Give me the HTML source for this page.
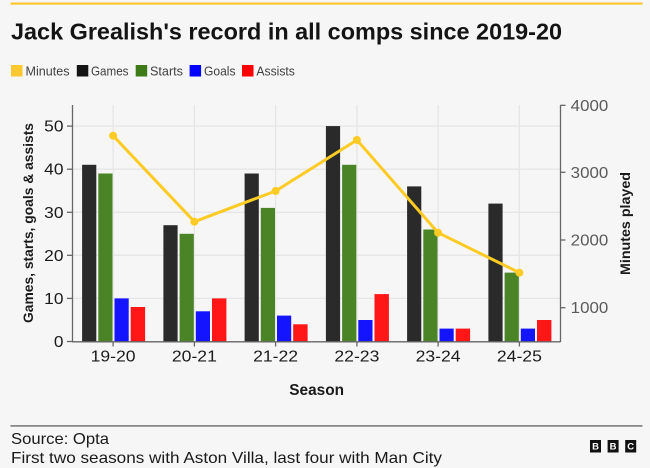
<!DOCTYPE html>
<html><head><meta charset="utf-8"><style>
html,body{margin:0;padding:0;background:#f6f6f6;}
svg{display:block;font-family:"Liberation Sans",Arial,sans-serif;}
</style></head><body>
<svg width="650" height="468" viewBox="0 0 650 468" xmlns="http://www.w3.org/2000/svg">
<rect x="0" y="0" width="650" height="468" fill="#f6f6f6"/>
<rect x="10.5" y="2.5" width="632" height="2.2" fill="#fdc82f"/>
<text x="11" y="39.3" font-size="23.5" font-weight="bold" fill="#141414" textLength="551" lengthAdjust="spacingAndGlyphs">Jack Grealish's record in all comps since 2019-20</text>
<!-- legend -->
<g font-size="13" fill="#404040">
<rect x="11" y="65" width="11.5" height="11.5" fill="#fdc82f"/>
<text x="25.5" y="75.5" textLength="44" lengthAdjust="spacingAndGlyphs">Minutes</text>
<rect x="76.8" y="65" width="11.5" height="11.5" fill="#141414"/>
<text x="91" y="75.5" textLength="37.5" lengthAdjust="spacingAndGlyphs">Games</text>
<rect x="135.7" y="65" width="11.5" height="11.5" fill="#3e7a17"/>
<text x="150" y="75.5" textLength="33" lengthAdjust="spacingAndGlyphs">Starts</text>
<rect x="189.6" y="65" width="11.5" height="11.5" fill="#0000ff"/>
<text x="204" y="75.5" textLength="31.5" lengthAdjust="spacingAndGlyphs">Goals</text>
<rect x="242" y="65" width="11.5" height="11.5" fill="#ff0000"/>
<text x="256.4" y="75.5" textLength="38.5" lengthAdjust="spacingAndGlyphs">Assists</text>
</g>
<!-- gridlines -->
<g stroke="#e6e6e6" stroke-width="1.3">
<line x1="72.5" x2="560" y1="298.4" y2="298.4"/>
<line x1="72.5" x2="560" y1="255.3" y2="255.3"/>
<line x1="72.5" x2="560" y1="212.3" y2="212.3"/>
<line x1="72.5" x2="560" y1="169.2" y2="169.2"/>
<line x1="72.5" x2="560" y1="126.1" y2="126.1"/>
<line x1="113.1" x2="113.1" y1="105" y2="341.5"/>
<line x1="194.4" x2="194.4" y1="105" y2="341.5"/>
<line x1="275.6" x2="275.6" y1="105" y2="341.5"/>
<line x1="356.9" x2="356.9" y1="105" y2="341.5"/>
<line x1="438.1" x2="438.1" y1="105" y2="341.5"/>
<line x1="519.4" x2="519.4" y1="105" y2="341.5"/>
</g>
<!-- bars -->
<g>
<rect x="82.1" y="164.8" width="14.2" height="176.7" fill="#2a2a2a"/>
<rect x="98.3" y="173.5" width="14.2" height="168.0" fill="#4a8426"/>
<rect x="114.5" y="298.4" width="14.2" height="43.1" fill="#1414ff"/>
<rect x="130.7" y="307.0" width="14.4" height="34.5" fill="#ff1616"/>
<rect x="163.4" y="225.2" width="14.2" height="116.3" fill="#2a2a2a"/>
<rect x="179.6" y="233.8" width="14.2" height="107.7" fill="#4a8426"/>
<rect x="195.8" y="311.3" width="14.2" height="30.2" fill="#1414ff"/>
<rect x="212.0" y="298.4" width="14.4" height="43.1" fill="#ff1616"/>
<rect x="244.6" y="173.5" width="14.2" height="168.0" fill="#2a2a2a"/>
<rect x="260.8" y="207.9" width="14.2" height="133.6" fill="#4a8426"/>
<rect x="277.0" y="315.6" width="14.2" height="25.9" fill="#1414ff"/>
<rect x="293.2" y="324.3" width="14.4" height="17.2" fill="#ff1616"/>
<rect x="325.9" y="126.1" width="14.2" height="215.4" fill="#2a2a2a"/>
<rect x="342.1" y="164.8" width="14.2" height="176.7" fill="#4a8426"/>
<rect x="358.3" y="320.0" width="14.2" height="21.5" fill="#1414ff"/>
<rect x="374.5" y="294.1" width="14.4" height="47.4" fill="#ff1616"/>
<rect x="407.1" y="186.4" width="14.2" height="155.1" fill="#2a2a2a"/>
<rect x="423.3" y="229.5" width="14.2" height="112.0" fill="#4a8426"/>
<rect x="439.5" y="328.6" width="14.2" height="12.9" fill="#1414ff"/>
<rect x="455.7" y="328.6" width="14.4" height="12.9" fill="#ff1616"/>
<rect x="488.4" y="203.6" width="14.2" height="137.9" fill="#2a2a2a"/>
<rect x="504.6" y="272.6" width="14.2" height="68.9" fill="#4a8426"/>
<rect x="520.8" y="328.6" width="14.2" height="12.9" fill="#1414ff"/>
<rect x="537.0" y="320.0" width="14.4" height="21.5" fill="#ff1616"/>
</g>
<!-- minutes line -->
<polyline points="113.1,135.7 194.4,221.7 275.6,191 356.9,140 438.1,232.7 519.4,272.7" fill="none" stroke="#fdcb24" stroke-width="3" stroke-linejoin="round"/>
<g fill="#fdcb24">
<circle cx="113.1" cy="135.7" r="4"/>
<circle cx="194.4" cy="221.7" r="4"/>
<circle cx="275.6" cy="191" r="4"/>
<circle cx="356.9" cy="140" r="4"/>
<circle cx="438.1" cy="232.7" r="4"/>
<circle cx="519.4" cy="272.7" r="4"/>
</g>
<!-- axes -->
<g stroke="#666" stroke-width="1.3" fill="none">
<line x1="72.5" x2="72.5" y1="105" y2="342"/>
<line x1="72" x2="560.5" y1="341.8" y2="341.8"/>
<line x1="560.5" x2="560.5" y1="105" y2="342"/>
<line x1="67" x2="72.5" y1="341.5" y2="341.5"/>
<line x1="67" x2="72.5" y1="298.4" y2="298.4"/>
<line x1="67" x2="72.5" y1="255.3" y2="255.3"/>
<line x1="67" x2="72.5" y1="212.3" y2="212.3"/>
<line x1="67" x2="72.5" y1="169.2" y2="169.2"/>
<line x1="67" x2="72.5" y1="126.1" y2="126.1"/>
<line x1="560.5" x2="565.5" y1="307.7" y2="307.7"/>
<line x1="560.5" x2="565.5" y1="240.0" y2="240.0"/>
<line x1="560.5" x2="565.5" y1="172.3" y2="172.3"/>
<line x1="560.5" x2="565.5" y1="105.3" y2="105.3"/>
<line x1="113.1" x2="113.1" y1="342" y2="346.5"/>
<line x1="194.4" x2="194.4" y1="342" y2="346.5"/>
<line x1="275.6" x2="275.6" y1="342" y2="346.5"/>
<line x1="356.9" x2="356.9" y1="342" y2="346.5"/>
<line x1="438.1" x2="438.1" y1="342" y2="346.5"/>
<line x1="519.4" x2="519.4" y1="342" y2="346.5"/>
</g>
<!-- left tick labels -->
<g font-size="15.5" fill="#1a1a1a" text-anchor="end">
<text x="63.5" y="347" textLength="9.6" lengthAdjust="spacingAndGlyphs">0</text>
<text x="63.5" y="303.9" textLength="19.3" lengthAdjust="spacingAndGlyphs">10</text>
<text x="63.5" y="260.8" textLength="19.3" lengthAdjust="spacingAndGlyphs">20</text>
<text x="63.5" y="217.8" textLength="19.3" lengthAdjust="spacingAndGlyphs">30</text>
<text x="63.5" y="174.7" textLength="19.3" lengthAdjust="spacingAndGlyphs">40</text>
<text x="63.5" y="131.6" textLength="19.3" lengthAdjust="spacingAndGlyphs">50</text>
</g>
<!-- right tick labels -->
<g font-size="15.5" fill="#5a5a5a">
<text x="570.7" y="313.2" textLength="37.6" lengthAdjust="spacingAndGlyphs">1000</text>
<text x="570.7" y="245.5" textLength="37.6" lengthAdjust="spacingAndGlyphs">2000</text>
<text x="570.7" y="177.8" textLength="37.6" lengthAdjust="spacingAndGlyphs">3000</text>
<text x="570.7" y="110.8" textLength="37.6" lengthAdjust="spacingAndGlyphs">4000</text>
</g>
<!-- category labels -->
<g font-size="15.5" fill="#1a1a1a" text-anchor="middle">
<text x="113.1" y="361.7" textLength="45" lengthAdjust="spacingAndGlyphs">19-20</text>
<text x="194.4" y="361.7" textLength="45" lengthAdjust="spacingAndGlyphs">20-21</text>
<text x="275.6" y="361.7" textLength="45" lengthAdjust="spacingAndGlyphs">21-22</text>
<text x="356.9" y="361.7" textLength="45" lengthAdjust="spacingAndGlyphs">22-23</text>
<text x="438.1" y="361.7" textLength="45" lengthAdjust="spacingAndGlyphs">23-24</text>
<text x="519.4" y="361.7" textLength="45" lengthAdjust="spacingAndGlyphs">24-25</text>
</g>
<!-- axis titles -->
<text x="289.3" y="395" font-size="16" font-weight="bold" fill="#1a1a1a" textLength="54.7" lengthAdjust="spacingAndGlyphs">Season</text>
<text transform="translate(33,223) rotate(-90)" text-anchor="middle" font-size="13.5" font-weight="bold" fill="#1a1a1a" textLength="200" lengthAdjust="spacingAndGlyphs">Games, starts, goals &amp; assists</text>
<text transform="translate(630,223.5) rotate(-90)" text-anchor="middle" font-size="13.5" font-weight="bold" fill="#1a1a1a" textLength="103" lengthAdjust="spacingAndGlyphs">Minutes played</text>
<!-- footer -->
<rect x="10.5" y="425" width="632" height="1.8" fill="#8a8a8a"/>
<text x="11" y="444" font-size="16" fill="#1a1a1a" textLength="98" lengthAdjust="spacingAndGlyphs">Source: Opta</text>
<text x="11" y="463" font-size="16" fill="#1a1a1a" textLength="431" lengthAdjust="spacingAndGlyphs">First two seasons with Aston Villa, last four with Man City</text>
<g>
<rect x="590" y="440" width="11" height="12.5" fill="#111"/>
<rect x="607.6" y="440" width="11" height="12.5" fill="#111"/>
<rect x="625.2" y="440" width="11" height="12.5" fill="#111"/>
<g font-size="9.5" font-weight="bold" fill="#fff" text-anchor="middle">
<text x="595.5" y="449.7">B</text>
<text x="613.1" y="449.7">B</text>
<text x="630.7" y="449.7">C</text>
</g>
</g>
</svg>
</body></html>
